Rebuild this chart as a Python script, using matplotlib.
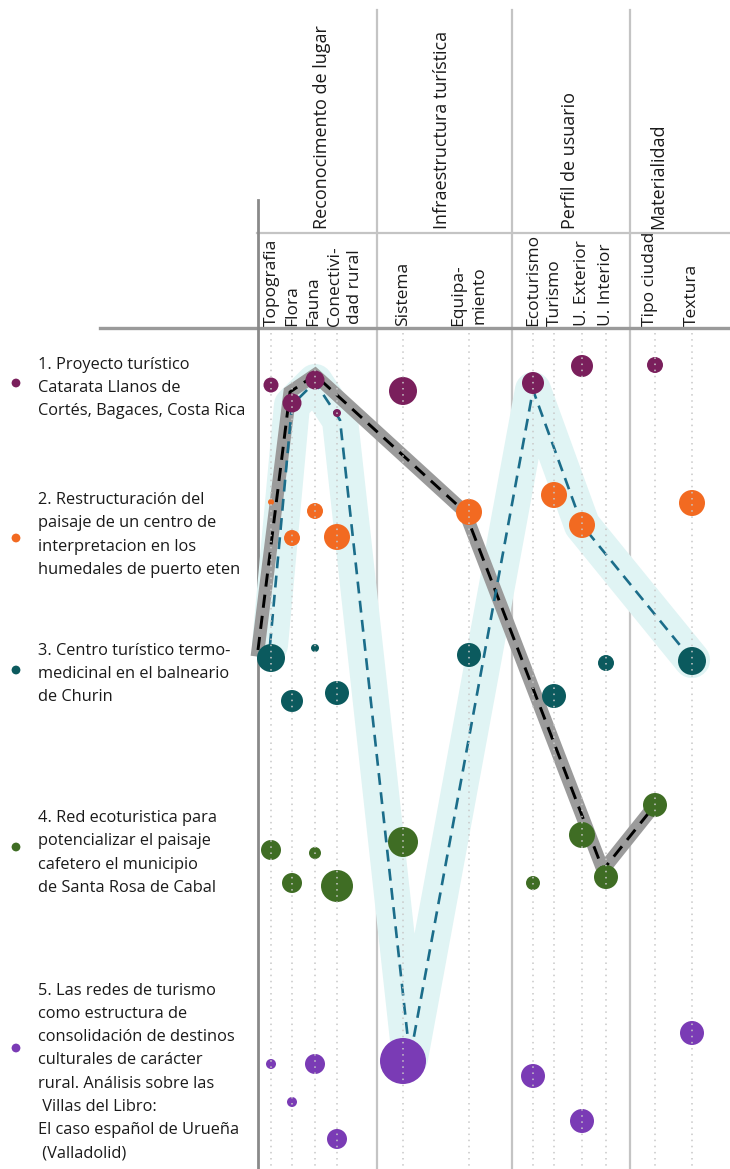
import numpy as np
import matplotlib.pyplot as plt

plt.rcParams['font.family'] = ['Open Sans', 'DejaVu Sans']

# Columns (criteria) and their groups
columns = ['Topografia', 'Flora', 'Fauna', 'Conectivi-\ndad rural', 'Sistema',
           'Equipa-\nmiento', 'Ecoturismo', 'Turismo', 'U. Exterior',
           'U. Interior', 'Tipo ciudad', 'Textura']
col_x = [271, 292, 315, 337, 403, 469, 533, 554, 582, 606, 655, 692]
label_x = [272, 292, 313, 345, 403, 469, 533, 555, 582, 606, 650, 692]

groups = ['Reconocimento de lugar', 'Infraestructura turística',
          'Perfil de usuario', 'Materialidad']
group_x = [322, 442, 570, 658]
separators_x = [377, 512, 630]

# Projects
projects = [
    '1. Proyecto turístico\nCatarata Llanos de\nCortés, Bagaces, Costa Rica',
    '2. Restructuración del\npaisaje de un centro de\ninterpretacion en los\nhumedales de puerto eten',
    '3. Centro turístico termo-\nmedicinal en el balneario\nde Churin',
    '4. Red ecoturistica para\npotencializar el paisaje\ncafetero el municipio\nde Santa Rosa de Cabal',
    '5. Las redes de turismo\ncomo estructura de\nconsolidación de destinos\nculturales de carácter\nrural. Análisis sobre las\n Villas del Libro:\nEl caso español de Urueña\n (Valladolid)',
]
project_y = [388, 535, 674, 853, 1072]
bullet_y = [383, 538, 670, 847, 1048]
colors = ['#7a1f5c', '#f26a21', '#0b5a5e', '#3f6d24', '#7a3bb5']

# Bubbles per project: column index, vertical level, radius
row_cols = [
    [0, 1, 2, 3, 4, 6, 8, 10],
    [0, 1, 2, 3, 5, 7, 8, 11],
    [0, 1, 2, 3, 5, 7, 9, 11],
    [0, 1, 2, 3, 4, 6, 8, 9, 10],
    [0, 1, 2, 3, 4, 6, 8, 11],
]
row_levels = [
    [385, 403, 380, 413, 391, 383, 366, 365],
    [502, 538, 511, 537, 512, 495, 525, 503],
    [658, 701, 648, 693, 655, 696, 663, 661],
    [850, 883, 853, 886, 842, 883, 835, 877, 805],
    [1064, 1102, 1064, 1139, 1061, 1076, 1121, 1033],
]
row_radius = [
    [7.5, 9.5, 9.5, 4, 14, 11, 11, 8],
    [3, 8, 8, 13, 13, 13, 13, 13],
    [14, 11, 4, 12, 12, 12, 8, 14],
    [10, 10, 6, 16, 15, 7, 13, 12, 12],
    [5, 5, 10, 10, 23, 12, 12, 12],
]

# Trend paths
gray_x = [258, 290, 315, 465, 603, 655]
gray_y = [650, 392, 375, 512, 870, 805]
blue_x = [270, 292, 315, 340, 410, 533, 582, 692]
blue_y = [645, 405, 382, 420, 1058, 390, 525, 660]

fig = plt.figure(figsize=(7.3, 11.69), dpi=100)
ax = fig.add_axes([0, 0, 1, 1])
ax.set_xlim(0, 730)
ax.set_ylim(1169, 0)
ax.axis('off')

# frame lines
for sx in separators_x:
    ax.plot([sx, sx], [10, 1169], color='#c4c4c4', lw=1.6, zorder=1)
ax.plot([257, 730], [233, 233], color='#c4c4c4', lw=1.6, zorder=1)
ax.plot([100, 730], [328, 328], color='#9a9a9a', lw=2.4, zorder=1)
ax.plot([258, 258], [200, 1169], color='#8a8a8a', lw=2, zorder=1)

# band, trend lines
ax.plot(blue_x, blue_y, color='#e0f4f4', lw=26,
        solid_joinstyle='round', solid_capstyle='round', zorder=2)
ax.plot(gray_x, gray_y, color='#9b9b9b', lw=9.5, solid_joinstyle='miter', zorder=3)
ax.plot(gray_x, gray_y, color='black', lw=2.1, dashes=(4.5, 2.8), zorder=4)
ax.plot(blue_x, blue_y, color='#1b6d8a', lw=1.9, dashes=(4.5, 2.8), zorder=4)

# bubbles
for cols, lv, rad, c in zip(row_cols, row_levels, row_radius, colors):
    xs = [col_x[i] for i in cols]
    s = (1.44 * np.array(rad)) ** 2
    ax.scatter(xs, lv, s=s, color=c, edgecolors='none', zorder=5)

# dotted guides
for cx in col_x:
    ax.plot([cx, cx], [333, 1169], color='#c8c8c8', lw=1.1,
            linestyle=(0, (1, 3)), zorder=6)

# header texts
for lbl, lx in zip(columns, label_x):
    ax.text(lx, 326, lbl, rotation=90, ha='center', va='bottom',
            fontsize=12.5, linespacing=1.4, color='#1a1a1a')
for g, gx in zip(groups, group_x):
    ax.text(gx, 229, g, rotation=90, ha='center', va='bottom',
            fontsize=13, color='#1a1a1a')

# project labels
for p, py, by, c in zip(projects, project_y, bullet_y, colors):
    ax.text(38, py, p, ha='left', va='center', fontsize=11.8,
            linespacing=1.6, color='#1a1a1a')
    ax.scatter([16], [by], s=40, color=c, edgecolors='none')

fig.savefig('out.png', dpi=100)
